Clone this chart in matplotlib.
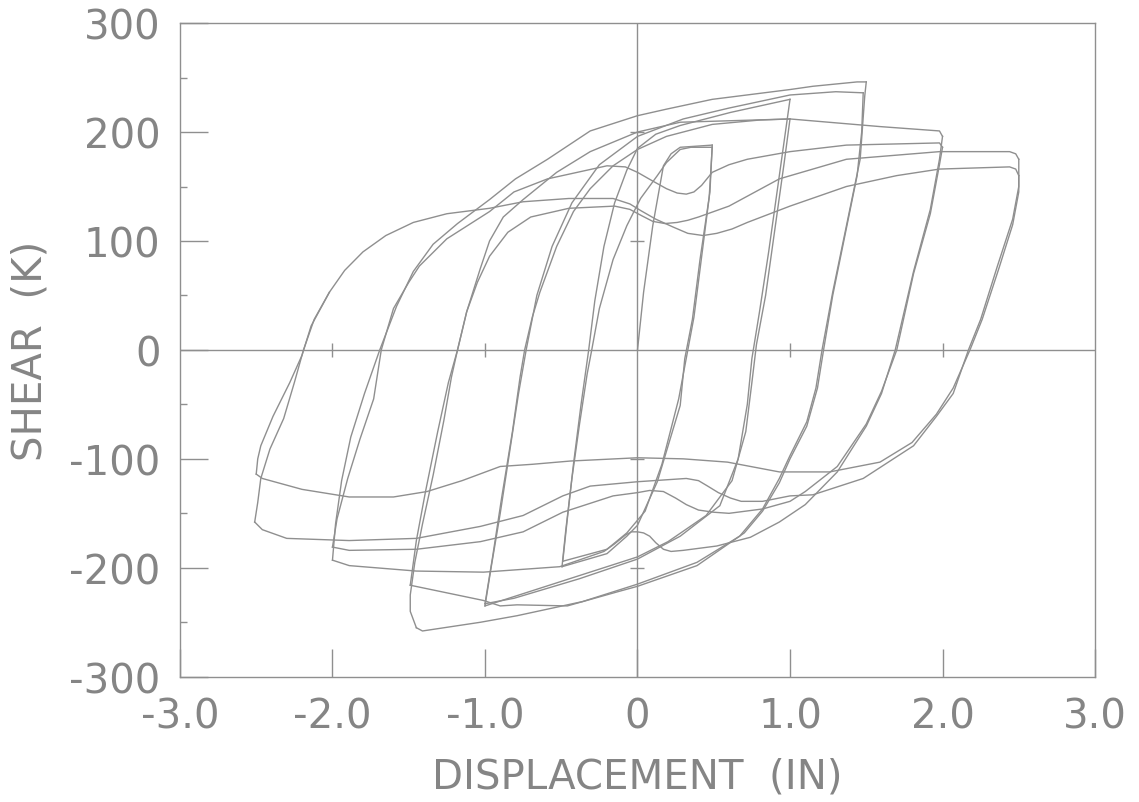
import matplotlib.pyplot as plt
from matplotlib.ticker import MultipleLocator

# shear-displacement hysteresis record, one list of (in, kips) pairs per half cycle
rise_initial = [(0.0, 0), (0.04, 53), (0.10, 114), (0.17, 169), (0.22, 180), (0.28, 186), (0.49, 188)]
fall_05a = [(0.49, 188), (0.475, 145), (0.41, 83), (0.36, 28), (0.31, -8), (0.28, -51), (0.13, -121),
            (0.0, -161), (-0.07, -171), (-0.2, -187), (-0.495, -199)]
rise_05 = [(-0.495, -199), (-0.47, -165), (-0.43, -118), (-0.38, -68), (-0.33, -22), (-0.30, 0),
           (-0.25, 38), (-0.16, 83), (-0.07, 114), (0.02, 139), (0.13, 160), (0.19, 172), (0.28, 184),
           (0.35, 186), (0.49, 186)]
fall_05b = [(0.49, 186), (0.47, 140), (0.42, 85), (0.37, 30), (0.33, 0), (0.27, -45), (0.16, -105),
            (0.05, -148), (-0.07, -168), (-0.2, -183), (-0.49, -194)]
rise_10a = [(-0.49, -194), (-0.46, -155), (-0.42, -105), (-0.37, -50), (-0.32, 0), (-0.28, 45),
            (-0.22, 95), (-0.15, 135), (-0.07, 165), (0.0, 185), (0.12, 198), (0.28, 206), (0.61, 218),
            (1.0, 230)]
fall_10a = [(1.0, 230), (0.98, 210), (0.92, 150), (0.86, 90), (0.8, 35), (0.75, -8), (0.72, -50),
            (0.66, -100), (0.54, -143), (0.28, -171), (0.0, -192), (-0.38, -210), (-0.81, -228), (-1.0, -233)]
rise_10b = [(-1.0, -233), (-0.95, -190), (-0.89, -135), (-0.82, -75), (-0.77, -25), (-0.74, 0),
            (-0.69, 30), (-0.64, 53), (-0.53, 95), (-0.42, 127), (-0.31, 148), (-0.16, 169), (0.0, 184),
            (0.19, 196), (0.49, 207), (0.8, 211), (1.0, 212)]
fall_10b = [(1.0, 212), (0.96, 170), (0.9, 110), (0.84, 50), (0.78, 5), (0.75, -30), (0.71, -75),
            (0.62, -120), (0.45, -152), (0.2, -176), (0.0, -190), (-0.4, -208), (-0.8, -226), (-1.0, -235)]
rise_15a = [(-2.0, -193), (-1.98, -160), (-1.94, -120), (-1.88, -80), (-1.79, -40), (-1.69, 0),
            (-1.58, 40), (-1.47, 72), (-1.34, 97), (-1.18, 116), (-0.97, 138), (-0.8, 157), (-0.59, 175),
            (-0.31, 201), (0.0, 215), (0.19, 221), (0.49, 230), (1.0, 239), (1.15, 242), (1.44, 246),
            (1.5, 246)]
fall_15a = [(1.5, 246), (1.49, 233), (1.46, 175), (1.37, 114), (1.28, 53), (1.21, 0), (1.17, -35),
            (1.11, -66), (1.0, -97), (0.93, -118), (0.82, -146), (0.67, -171), (0.39, -195), (0.0, -215),
            (-0.36, -231), (-0.79, -244), (-1.03, -250), (-1.41, -258), (-1.45, -255)]
rise_15b = [(-1.0, -235), (-0.96, -200), (-0.9, -150), (-0.84, -95), (-0.78, -40), (-0.73, 0),
            (-0.66, 50), (-0.56, 95), (-0.43, 135), (-0.25, 170), (0.0, 196), (0.3, 212), (0.6, 222),
            (1.0, 234), (1.3, 237), (1.48, 236)]
fall_15b = [(1.48, 236), (1.47, 200), (1.44, 160), (1.36, 105), (1.28, 50), (1.22, 0), (1.18, -35),
            (1.11, -70), (1.0, -100), (0.93, -122), (0.82, -148), (0.7, -168), (0.39, -198), (0.0, -217),
            (-0.13, -222), (-0.46, -235), (-0.79, -234), (-0.9, -235), (-1.01, -230), (-1.49, -216)]
rise_20a = [(-1.49, -216), (-1.45, -175), (-1.39, -130), (-1.31, -75), (-1.24, -30), (-1.18, 0),
            (-1.12, 35), (-1.03, 75), (-0.97, 100), (-0.88, 122), (-0.75, 138), (-0.53, 163), (-0.31, 182),
            (0.0, 200), (0.28, 209), (1.0, 212), (1.59, 205), (1.98, 201), (2.0, 196)]
fall_20a = [(2.0, 196), (1.98, 175), (1.92, 129), (1.81, 72), (1.69, 0), (1.6, -40), (1.5, -70),
            (1.31, -112), (1.1, -142), (0.93, -158), (0.74, -172), (0.52, -180), (0.3, -184), (0.22, -185),
            (0.17, -183), (0.12, -177), (0.08, -171), (0.04, -168), (0.0, -167), (-0.04, -167),
            (-0.08, -170), (-0.15, -178), (-0.22, -185), (-0.51, -199), (-1.01, -204), (-1.45, -203),
            (-1.89, -198), (-2.0, -193)]
rise_20b = [(-2.0, -181), (-1.97, -155), (-1.9, -118), (-1.82, -82), (-1.73, -45), (-1.68, 0),
            (-1.6, 38), (-1.5, 62), (-1.43, 77), (-1.25, 102), (-0.97, 127), (-0.81, 145), (-0.59, 157),
            (-0.2, 169), (-0.08, 168), (0.0, 163), (0.1, 155), (0.19, 148), (0.26, 144), (0.32, 143),
            (0.37, 145), (0.42, 151), (0.49, 163), (0.6, 170), (0.72, 175), (1.0, 182), (1.37, 188),
            (1.98, 190), (2.0, 186)]
fall_20b = [(2.0, 186), (1.98, 170), (1.92, 125), (1.81, 70), (1.70, 0), (1.6, -38), (1.5, -68),
            (1.31, -107), (1.1, -130), (1.0, -139), (0.82, -146), (0.6, -150), (0.5, -149), (0.4, -147),
            (0.32, -142), (0.25, -136), (0.17, -130), (0.08, -129), (0.0, -131), (-0.16, -134),
            (-0.49, -149), (-0.75, -167), (-1.03, -176), (-1.45, -183), (-1.89, -184), (-2.0, -181)]
rise_25a = [(-1.45, -255), (-1.49, -240), (-1.49, -225), (-1.46, -195), (-1.41, -160), (-1.34, -115),
            (-1.27, -65), (-1.22, -25), (-1.18, 0), (-1.12, 35), (-1.05, 62), (-0.97, 86), (-0.85, 108),
            (-0.7, 122), (-0.45, 130), (-0.15, 132), (-0.05, 129), (0.03, 123), (0.1, 118), (0.18, 116),
            (0.26, 117), (0.33, 119), (0.4, 122), (0.6, 132), (0.93, 157), (1.37, 175), (1.98, 182),
            (2.44, 182), (2.48, 180), (2.5, 175)]
fall_25a = [(2.5, 175), (2.5, 150), (2.46, 120), (2.36, 77), (2.25, 28), (2.17, 0), (2.07, -40),
            (1.96, -61), (1.81, -88), (1.48, -118), (1.15, -133), (1.0, -134), (0.82, -139), (0.68, -139),
            (0.61, -136), (0.53, -131), (0.46, -125), (0.4, -120), (0.32, -118), (0.0, -121), (-0.31, -125),
            (-0.49, -134), (-0.75, -152), (-1.03, -162), (-1.45, -173), (-1.89, -175), (-2.3, -173),
            (-2.46, -165), (-2.51, -158)]
rise_25b = [(-2.51, -158), (-2.49, -140), (-2.47, -118), (-2.41, -91), (-2.32, -63), (-2.25, -30),
            (-2.19, 0), (-2.12, 28), (-2.02, 53), (-1.92, 73), (-1.8, 90), (-1.65, 105), (-1.47, 117),
            (-1.25, 125), (-0.97, 130), (-0.75, 136), (-0.45, 139), (-0.16, 139), (-0.05, 134),
            (0.02, 128), (0.12, 120), (0.23, 113), (0.33, 107), (0.43, 105), (0.52, 107), (0.62, 111),
            (0.72, 117), (1.0, 132), (1.37, 150), (1.7, 160), (1.98, 166), (2.44, 168), (2.48, 166),
            (2.5, 160)]
fall_25b = [(2.5, 160), (2.5, 145), (2.46, 115), (2.37, 75), (2.26, 28), (2.18, 0), (2.07, -35),
            (1.96, -59), (1.8, -85), (1.59, -103), (1.26, -112), (0.93, -112), (0.59, -103), (0.3, -100),
            (0.0, -99), (-0.44, -102), (-0.69, -105), (-0.9, -107), (-1.15, -120), (-1.38, -130),
            (-1.6, -135), (-1.89, -135), (-2.2, -128), (-2.46, -118), (-2.5, -114)]
rise_end = [(-2.5, -114), (-2.49, -100), (-2.47, -88), (-2.39, -61), (-2.28, -30), (-2.2, -5),
            (-2.14, 22), (-2.02, 53)]

x_ticks = [-3.0, -2.0, -1.0, 0.0, 1.0, 2.0, 3.0]
x_tick_labels = ["-3.0", "-2.0", "-1.0", "0", "1.0", "2.0", "3.0"]
y_ticks = [-300, -200, -100, 0, 100, 200, 300]
y_tick_labels = ["-300", "-200", "-100", "0", "100", "200", "300"]

record = [rise_initial, fall_05a, rise_05, fall_05b, rise_10a, fall_10a, rise_10b, fall_10b,
          rise_15a, fall_15a, rise_15b, fall_15b, rise_20a, fall_20a, rise_20b, fall_20b,
          rise_25a, fall_25a, rise_25b, fall_25b, rise_end]

ink = "#8f8f8f"
text_ink = "#858585"

fig = plt.figure(figsize=(11.39, 8.03), dpi=100)
ax = fig.add_axes([0.158, 0.156, 0.8034, 0.814])

for half in record:
    d, v = zip(*half)
    ax.plot(d, v, color=ink, lw=1.0, solid_joinstyle="round")

# zero lines with their own small tick marks
ax.axhline(0, color=ink, lw=1.0)
ax.axvline(0, color=ink, lw=1.0)
ax.plot([t for t in x_ticks if t not in (-3.0, 0.0, 3.0)], [0] * 4, ls="none",
        marker="|", ms=10, mew=1.0, color=ink)
ax.plot([0] * 4, [t for t in y_ticks if t not in (-300, 0, 300)], ls="none",
        marker="_", ms=10, mew=1.0, color=ink)

ax.set_xlim(-3, 3)
ax.set_ylim(-300, 300)
ax.set_xticks(x_ticks)
ax.set_xticklabels(x_tick_labels)
ax.set_yticks(y_ticks)
ax.set_yticklabels(y_tick_labels)
ax.yaxis.set_minor_locator(MultipleLocator(50))
ax.tick_params(axis="both", which="major", direction="in", length=20, width=1.0,
               color=ink, labelcolor=text_ink, labelsize=29, pad=14,
               top=False, right=False)
ax.tick_params(axis="y", which="minor", direction="in", length=5, width=1.0,
               color=ink, right=False)
for side in ax.spines.values():
    side.set_color(ink)
    side.set_linewidth(1.0)

ax.set_xlabel("DISPLACEMENT  (IN)", fontsize=29, color=text_ink, va="top")
ax.set_ylabel("SHEAR  (K)", fontsize=29, color=text_ink)
ax.xaxis.set_label_coords(0.5, -0.122)
ax.yaxis.set_label_coords(-0.142, 0.5)

fig.savefig("out.png", dpi=100, facecolor="white")
